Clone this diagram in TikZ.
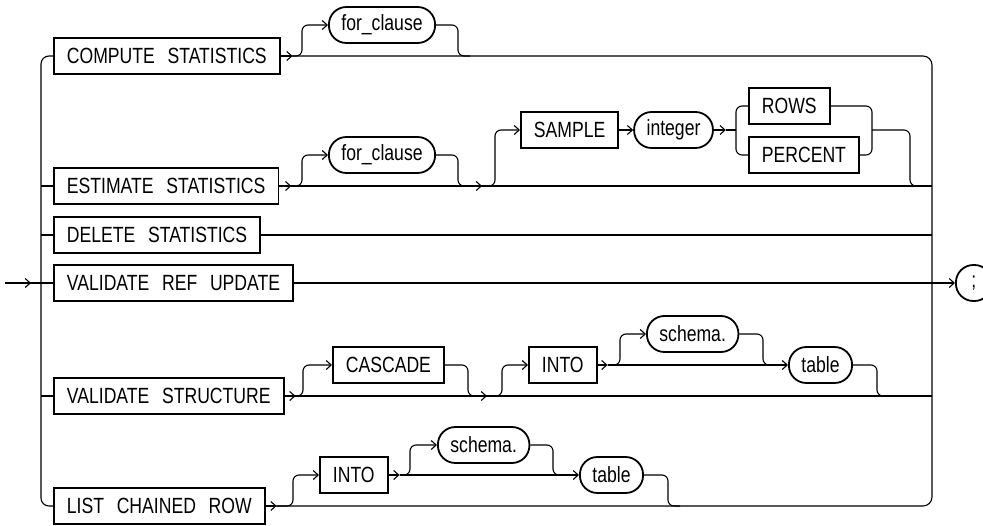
\documentclass[tikz,border=0pt]{standalone}
\usepackage{fontspec}
\setmainfont{Liberation Sans}[FakeStretch=0.8,WordSpace=2.6]
\usetikzlibrary{arrows.meta,positioning}

\begin{document}
\begin{tikzpicture}[
    x=1pt, y=-1pt,
    font=\fontsize{22}{25}\selectfont,
    line width=1.1pt,
    kw/.style={draw, line width=1.8pt, anchor=west, inner xsep=13pt, inner ysep=0pt, minimum height=36pt},
    ref/.style={draw, line width=1.8pt, anchor=west, rounded corners=17.5pt, inner xsep=12.5pt, inner ysep=0pt, minimum height=36pt},
    arr/.style={-{Straight Barb[length=5pt,width=9pt]}},
    curve/.style={rounded corners=6pt}
  ]
  \useasboundingbox (0,0) rectangle (983,525);

  % keyword rows
  \node[kw] (cs) at (53,56) {COMPUTE STATISTICS};
  \node[kw] (es) at (53,186) {ESTIMATE STATISTICS};
  \node[kw] (ds) at (53,235) {DELETE STATISTICS};
  \node[kw] (vr) at (53,283) {VALIDATE REF UPDATE};
  \node[kw] (vs) at (53,396) {VALIDATE STRUCTURE};
  \node[kw] (lc) at (53,506) {LIST CHAINED ROW};

  % optional parts
  \node[ref] (fc1) at (328,25) {for\_clause};
  \node[ref] (fc2) at (328,155) {for\_clause};
  \node[kw] (smp) at (520,130) {SAMPLE};
  \node[ref, right=14pt of smp] (int) {integer};
  \node[kw] (rows) at (748,106) {ROWS};
  \node[kw] (pct) at (748,155) {PERCENT};
  \node[kw] (cas) at (332,365) {CASCADE};
  \node[kw] (into1) at (528,365) {INTO};
  \node[ref] (sch1) at (646,334) {schema.};
  \node[ref] (tab1) at (788,365) {table};
  \node[kw] (into2) at (319,475) {INTO};
  \node[ref] (sch2) at (437,445) {schema.};
  \node[ref] (tab2) at (579,475) {table};
  \node[ref, minimum width=36pt, inner xsep=0pt] (semi) at (955,283) {;};

  % buses
  \coordinate (start) at (5,283);
  \coordinate (lbus) at (41,283);
  \coordinate (rbus) at (932,283);
  \draw (start) -- (lbus);
  \draw[arr] (start) -- ([xshift=-10pt]lbus);
  \draw[rounded corners=8pt] (cs.west) -| (lbus) |- (lc.west);
  \draw (es.west -| lbus) -- (es.west);
  \draw (ds.west -| lbus) -- (ds.west);
  \draw (lbus) -- (vr.west);
  \draw (vs.west -| lbus) -- (vs.west);
  \draw[rounded corners=9pt] (cs.east) -- (cs.east -| rbus) -- (lc.east -| rbus) -- (lc.east);
  \draw (es.east) -- (es.east -| rbus);
  \draw (ds.east) -- (ds.east -| rbus);
  \draw (vr.east) -- (rbus);
  \draw (vs.east) -- (vs.east -| rbus);
  \draw[arr] (rbus) -- (semi.west);

  % compute statistics
  \coordinate[right=12pt of cs] (a1);
  \coordinate (m1) at (470,56);
  \draw[arr] (cs.east) -- (a1);
  \draw[curve, arr] (a1) -| (302,25) -- (fc1.west);
  \draw[curve] (fc1.east) -| (458,56) -- (m1);

  % estimate statistics
  \coordinate[right=12pt of es] (a2);
  \coordinate (m2) at (470,186);
  \coordinate (a3) at (482,186);
  \draw[arr] (es.east) -- (a2);
  \draw[curve, arr] (a2) -| (302,155) -- (fc2.west);
  \draw[curve] (fc2.east) -| (458,186) -- (m2);
  \draw[arr] (m2) -- (a3);
  \draw[curve, arr] (a3) -| (495,130) -- (smp.west);
  \draw[arr] (smp.east) -- (int.west);
  \coordinate[right=12pt of int] (a4);
  \coordinate (j1) at (736,130);
  \coordinate (j2) at (872,130);
  \coordinate (m3) at (922,186);
  \draw[arr] (int.east) -- (a4);
  \draw (a4) -- (j1);
  \draw[curve] (rows.west) -| (j1) |- (pct.west);
  \draw[curve] (rows.east) -| (j2) |- (pct.east);
  \draw[curve] (j2) -| (910,186) -- (m3);

  % validate structure
  \coordinate[right=11pt of vs] (a5);
  \coordinate (m5) at (480,396);
  \coordinate (a6) at (487,396);
  \draw[arr] (vs.east) -- (a5);
  \draw[curve, arr] (a5) -| (303,365) -- (cas.west);
  \draw[curve] (cas.east) -| (468,396) -- (m5);
  \draw[arr] (m5) -- (a6);
  \draw[curve, arr] (a6) -| (502,365) -- (into1.west);
  \coordinate[right=10pt of into1] (a7);
  \coordinate (m6) at (775,365);
  \coordinate (m7) at (889,396);
  \draw[arr] (into1.east) -- (a7);
  \draw[curve, arr] (a7) -| (620,334) -- (sch1.west);
  \draw[arr] (a7) -- (tab1.west);
  \draw[curve] (sch1.east) -| (763,365) -- (m6);
  \draw[curve] (tab1.east) -| (877,396) -- (m7);

  % list chained row
  \coordinate[right=11pt of lc] (a8);
  \draw[arr] (lc.east) -- (a8);
  \draw[curve, arr] (a8) -| (293,475) -- (into2.west);
  \coordinate[right=11pt of into2] (a9);
  \coordinate (m8) at (565,475);
  \coordinate (m9) at (680,506);
  \draw[arr] (into2.east) -- (a9);
  \draw[curve, arr] (a9) -| (410,445) -- (sch2.west);
  \draw[arr] (a9) -- (tab2.west);
  \draw[curve] (sch2.east) -| (553,475) -- (m8);
  \draw[curve] (tab2.east) -| (668,506) -- (m9);
\end{tikzpicture}
\end{document}
